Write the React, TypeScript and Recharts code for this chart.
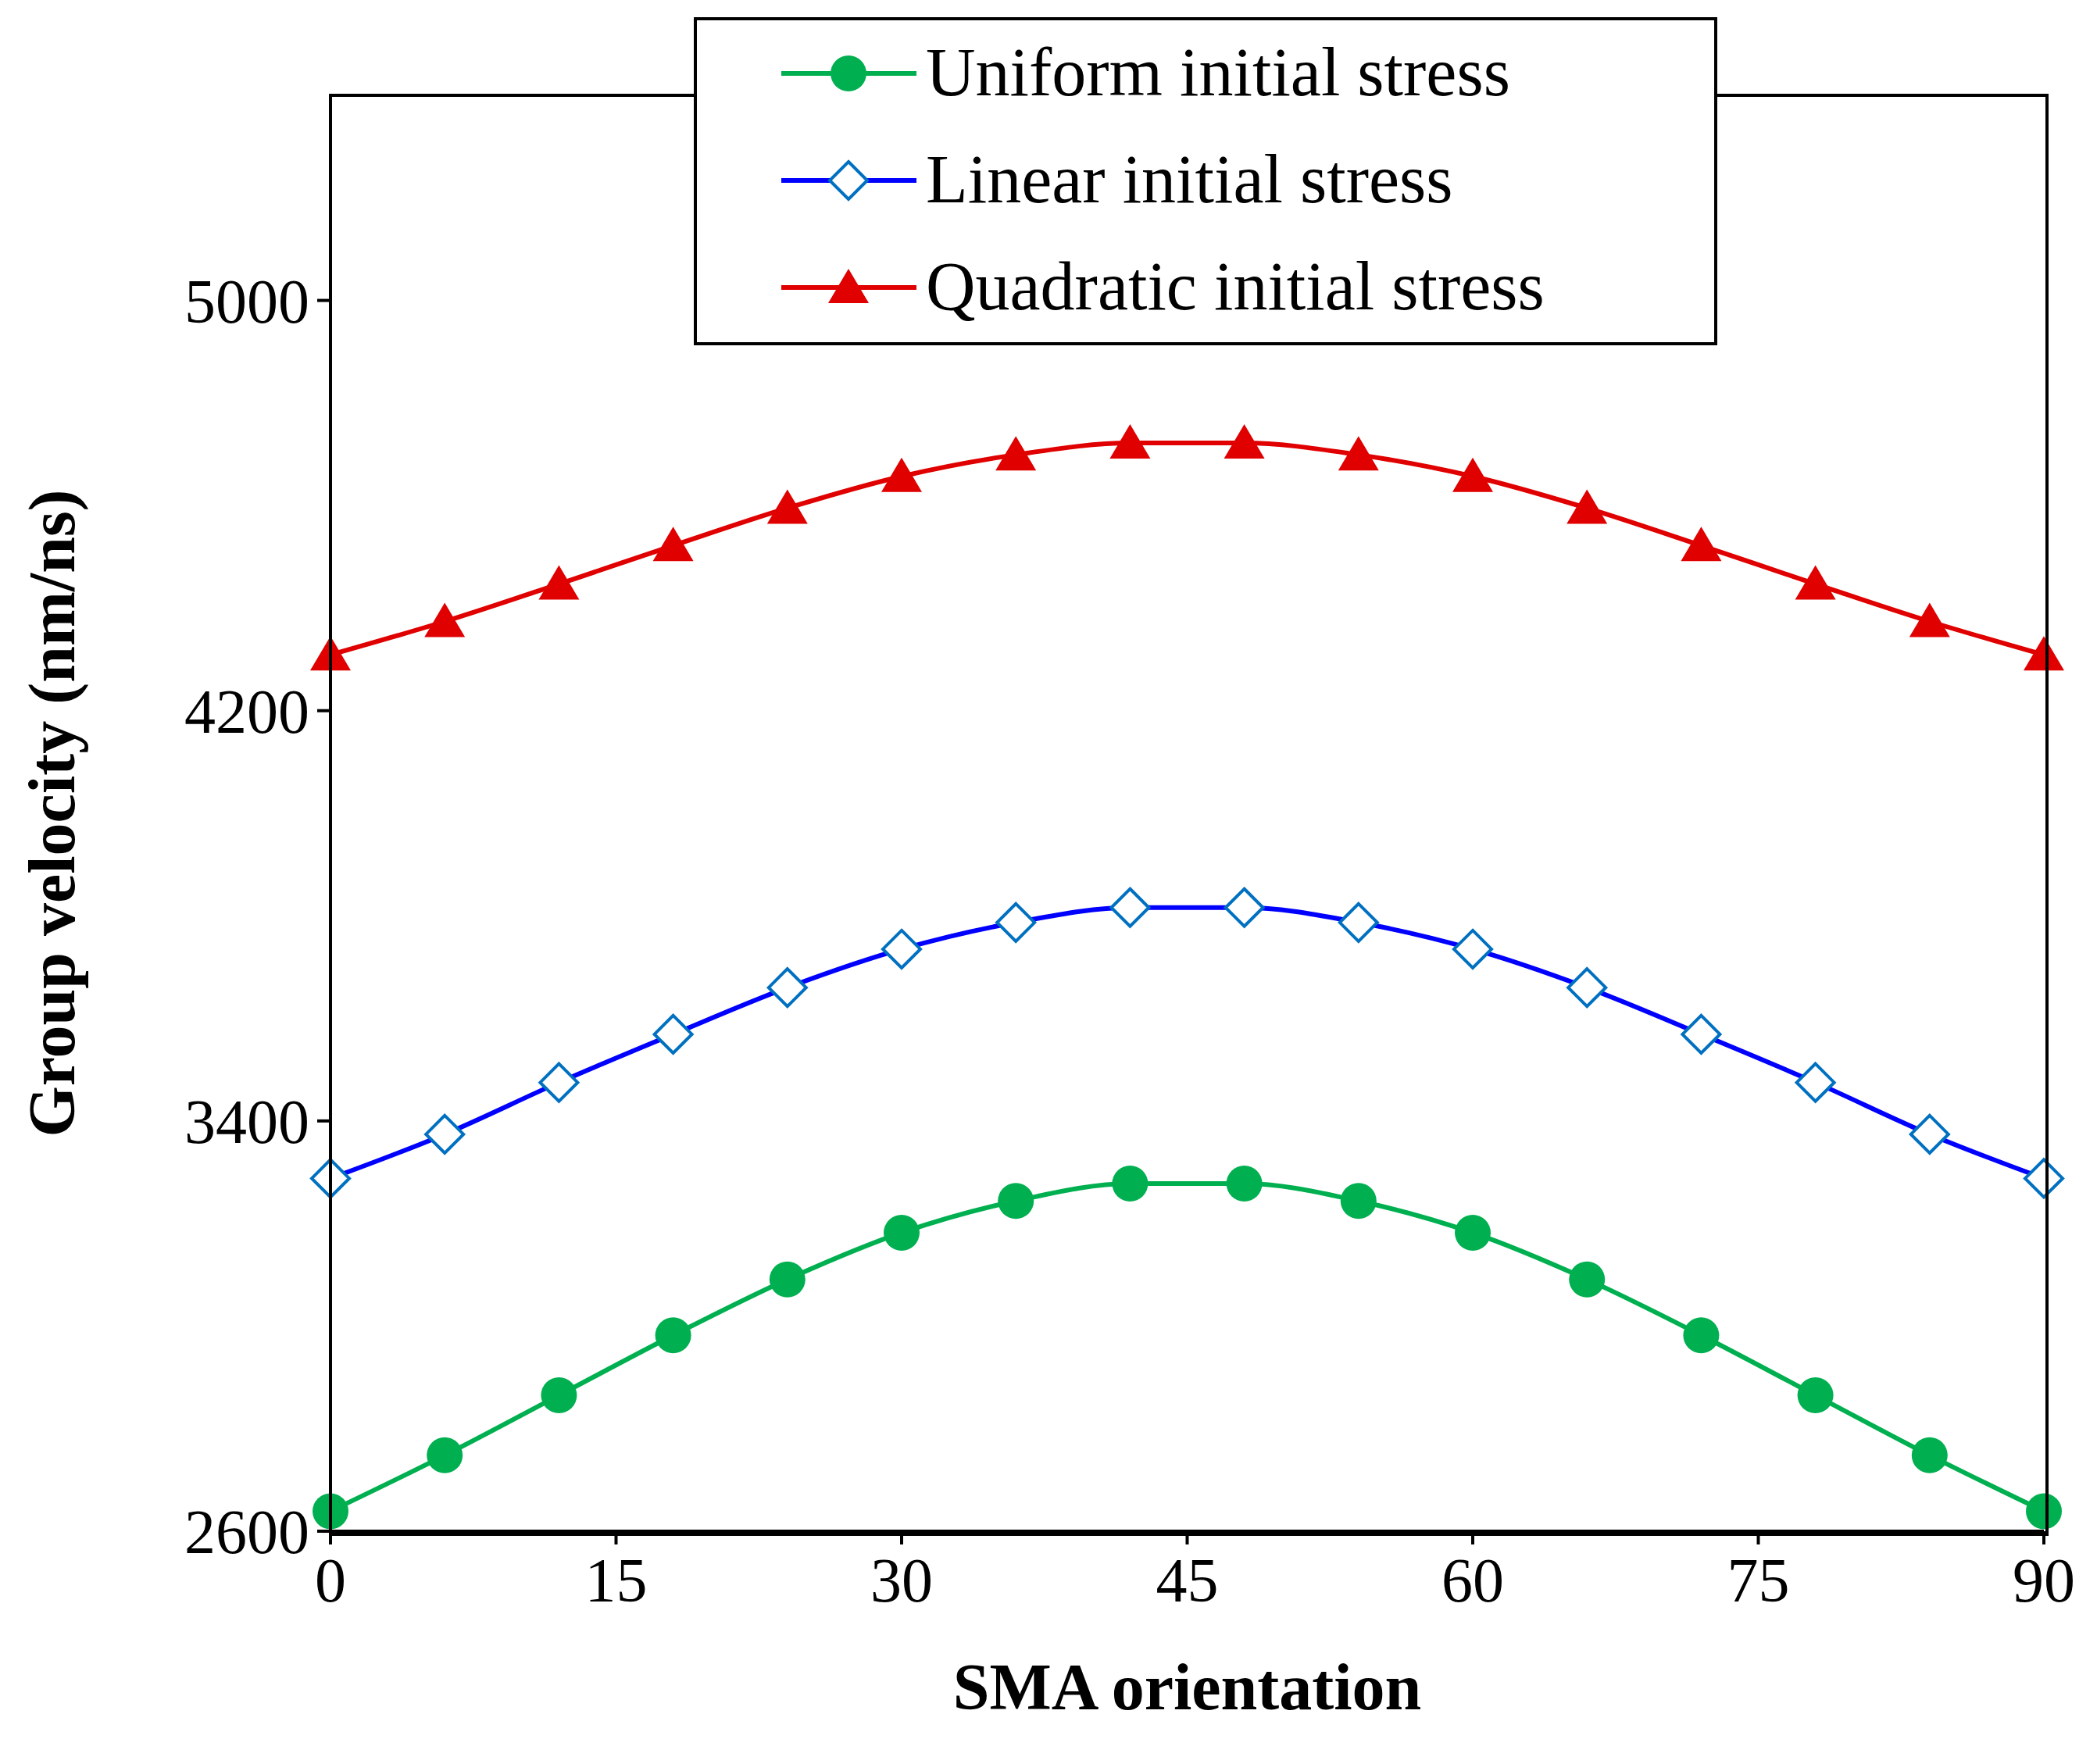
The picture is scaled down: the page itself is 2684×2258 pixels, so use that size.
import React from 'react';
import { LineChart, Line, XAxis, YAxis, Label } from 'recharts';

const angles = [0, 6, 12, 18, 24, 30, 36, 42, 48, 54, 60, 66, 72, 78, 84, 90];
const uniform = [2639, 2748, 2865, 2982, 3091, 3182, 3244, 3278, 3278, 3244, 3182, 3091, 2982, 2865, 2748, 2639];
const linear = [3288, 3374, 3475, 3569, 3660, 3735, 3787, 3816, 3816, 3787, 3735, 3660, 3569, 3475, 3374, 3288];
const quadratic = [4309, 4374, 4447, 4522, 4595, 4657, 4699, 4722, 4722, 4699, 4657, 4595, 4522, 4447, 4374, 4309];
const xTicks = [0, 15, 30, 45, 60, 75, 90];
const yTicks = [2600, 3400, 4200, 5000];

const data = angles.map((a, i) => ({ a, u: uniform[i], l: linear[i], q: quadratic[i] }));

const FONT = '"Liberation Serif", "Times New Roman", serif';
const GREEN = '#00b050';
const BLUE = '#0000ff';
const MARK_BLUE = '#0070c0';
const RED = '#e00000';

const Circle = (p: any) => <circle key={p.index} cx={p.cx} cy={p.cy} r={23} fill={GREEN} />;
const Diamond = (p: any) => (
  <polygon key={p.index}
    points={`${p.cx},${p.cy - 24} ${p.cx + 24},${p.cy} ${p.cx},${p.cy + 24} ${p.cx - 24},${p.cy}`}
    fill="#fff" stroke={MARK_BLUE} strokeWidth={4} />
);
const Tri = (p: any) => (
  <polygon key={p.index}
    points={`${p.cx},${p.cy - 24} ${p.cx + 26},${p.cy + 20} ${p.cx - 26},${p.cy + 20}`}
    fill={RED} />
);

const legendRows = [
  { name: 'Uniform initial stress', color: GREEN, Mark: Circle },
  { name: 'Linear initial stress', color: BLUE, Mark: Diamond },
  { name: 'Quadratic initial stress', color: RED, Mark: Tri },
];

const LegendBox = () => (
  <svg width={1310} height={420} style={{ display: 'block' }}>
    <rect x={2} y={2} width={1306} height={416} fill="#fff" stroke="#000" strokeWidth={4} />
    {legendRows.map((r, i) => {
      const y = 72 + i * 137;
      return (
        <g key={r.name}>
          <line x1={112} x2={285} y1={y} y2={y} stroke={r.color} strokeWidth={6} />
          <r.Mark cx={198} cy={y} index={i} />
          <text x={297} y={y + 28} fontSize={88} fontFamily={FONT} fill="#000">{r.name}</text>
        </g>
      );
    })}
  </svg>
);

export default function App() {
  const tick = { fontSize: 80, fontFamily: FONT, fill: '#000' };
  return (
    <div style={{ margin: -8, background: '#fff', width: 2684, height: 2258, position: 'relative' }}>
      <LineChart width={2684} height={2258} data={data}
        margin={{ top: 122, right: 68, left: 0, bottom: 0 }}>
        <XAxis dataKey="a" type="number" domain={[0, 90]} ticks={xTicks} height={298}
          stroke="#000" strokeWidth={4} tickSize={17} tickMargin={16} tick={tick} tickLine={{ strokeWidth: 4 }}>
          <Label value="SMA orientation" position="insideBottom" offset={70}
            style={{ fontSize: 84, fontWeight: 'bold', fontFamily: FONT, fill: '#000' }} />
        </XAxis>
        <YAxis type="number" domain={[2600, 5400]} ticks={yTicks} width={423}
          stroke="#000" strokeWidth={4} tickSize={17} tickMargin={10} tick={tick} tickLine={{ strokeWidth: 4 }}>
          <Label value="Group velocity (nm/ns)" angle={-90} position="insideLeft" offset={65}
            style={{ fontSize: 84, fontWeight: 'bold', fontFamily: FONT, fill: '#000', textAnchor: 'middle' }} />
        </YAxis>
        <Line type="monotone" dataKey="u" stroke={GREEN} strokeWidth={6} dot={Circle} isAnimationActive={false} />
        <Line type="monotone" dataKey="l" stroke={BLUE} strokeWidth={6} dot={Diamond} isAnimationActive={false} />
        <Line type="monotone" dataKey="q" stroke={RED} strokeWidth={6} dot={Tri} isAnimationActive={false} />
      </LineChart>
      <div style={{ position: 'absolute', left: 421, top: 120, width: 2193, height: 1838,
        border: '4px solid #000', pointerEvents: 'none' }} />
      <div style={{ position: 'absolute', left: 888, top: 22 }}>
        <LegendBox />
      </div>
    </div>
  );
}
